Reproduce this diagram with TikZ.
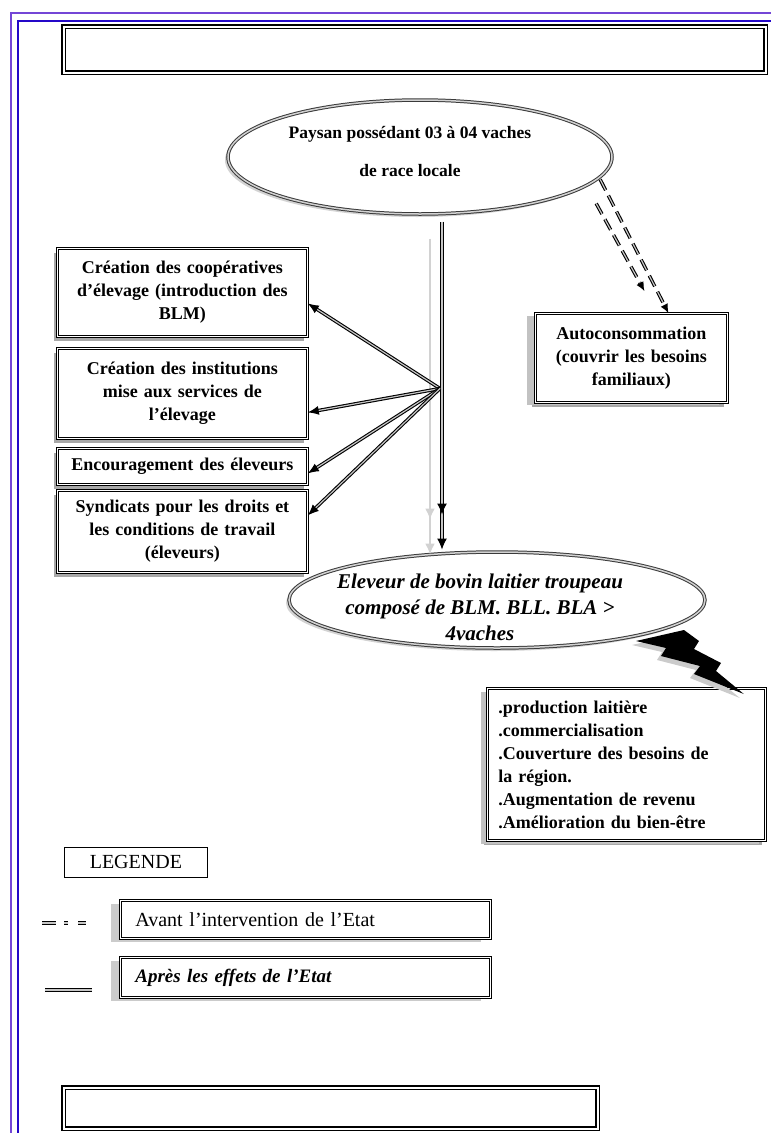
\documentclass[tikz,border=0pt]{standalone}
\usepackage{fontspec}
\setmainfont{Liberation Serif}
\usetikzlibrary{positioning, arrows.meta, shapes.geometric, shadows, calc}
\definecolor{cadreviolet}{HTML}{7446D6}
\definecolor{cadrebleu}{HTML}{2408C8}
\definecolor{corde}{HTML}{3A3A3A}
\definecolor{ombre}{HTML}{A8A8A8}

\begin{document}
\begin{tikzpicture}[x=1pt, y=-1pt,
    font=\bfseries\fontsize{18}{23}\selectfont,
    titre/.style={draw=black, double=white, line width=1.5pt, double distance=2pt,
                  anchor=north west, inner sep=0pt},
    cadre/.style={draw=black, double=white, line width=0.8pt, double distance=1.3pt, fill=white,
                  anchor=north west, align=center, inner sep=0pt},
    boite/.style={cadre, minimum width=250pt, text width=236pt,
                  drop shadow={shadow xshift=-3pt, shadow yshift=-5pt, fill=ombre, opacity=1}},
    cle/.style={cadre, minimum width=370pt, text width=340pt, align=left,
                font=\mdseries\fontsize{20}{24}\selectfont,
                drop shadow={shadow xshift=-9pt, shadow yshift=-4pt, fill=ombre!60, opacity=1}},
    bulle/.style={ellipse, draw=corde, double=gray!35, line width=1pt, double distance=1.5pt,
                  fill=white, inner sep=0pt,
                  drop shadow={shadow xshift=-3pt, shadow yshift=-3pt, fill=ombre!50, opacity=1}},
    apres/.style={draw=black, double=gray!45, line width=1.1pt, double distance=1.2pt,
                  -{Latex[length=11pt,width=9pt]}},
    avant/.style={apres, dash pattern=on 12pt off 6pt, -{Latex[length=9pt,width=8pt]}},
    reflet/.style={draw=gray!35, line width=2pt}]
  \useasboundingbox (0,0) rectangle (771,1133);

  % cadre de la page
  \draw[cadreviolet, line width=2.6pt] (11,1133) -- (11,13) -- (771,13);
  \draw[cadrebleu, line width=2.6pt] (18,1133) -- (18,21) -- (771,21);
  \node[titre, minimum width=702pt, minimum height=46pt] (titrehaut) at (63,26) {};

  % les deux situations
  \node[bulle, minimum width=384pt, minimum height=114pt] (paysan) at (420,157) {};
  \node[font=\bfseries\fontsize{17.5}{22}\selectfont, align=center] (paysantexte) at (410,152)
    {Paysan possédant 03 à 04 vaches\\[16pt] de race locale};
  \node[bulle, minimum width=416pt, minimum height=96pt] (eleveur) at (497,600) {};
  \node[font=\bfseries\itshape\fontsize{21}{26}\selectfont, align=center] (eleveurtexte) at (480,607)
    {Eleveur de bovin laitier troupeau\\ composé de BLM. BLL. BLA >\\ 4vaches};

  % actions de l'Etat
  \node[boite, minimum height=88pt] (cooperatives) at (57,248)
    {Création des coopératives\\ d'élevage (introduction des\\ BLM)};
  \node[boite, minimum height=90pt] (institutions) at (57,348)
    {Création des institutions\\ mise aux services de\\ l'élevage};
  \node[boite, minimum height=36pt] (encouragement) at (57,448) {Encouragement des éleveurs};
  \node[boite, minimum height=82pt] (syndicats) at (57,490)
    {Syndicats pour les droits et\\ les conditions de travail\\ (éleveurs)};
  \node[boite, minimum width=192pt, minimum height=89pt, text width=180pt,
        drop shadow={shadow xshift=-8pt, shadow yshift=-3pt, fill=ombre!70, opacity=1}] (autoconso) at (535,313)
    {Autoconsommation\\ (couvrir les besoins\\ familiaux)};
  \node[boite, minimum width=278pt, minimum height=152pt, text width=256pt, align=left,
        drop shadow={shadow xshift=-6pt, shadow yshift=-4pt, fill=ombre!70, opacity=1}] (apports) at (487,688)
    {.production laitière\\ .commercialisation\\ .Couverture des besoins de\\ la région.\\
     .Augmentation de revenu\\ .Amélioration du bien-être};

  % legende
  \node[draw=black, line width=0.8pt, anchor=north west, minimum width=143pt, minimum height=30pt,
        font=\mdseries\fontsize{20}{24}\selectfont] (legende) at (64,847) {LEGENDE};
  \node[cle, minimum height=38pt] (avantcle) at (120,900) {Avant l’intervention de l’Etat};
  \node[cle, minimum height=40pt, font=\bfseries\itshape\fontsize{19}{24}\selectfont] (aprescle) at (120,957)
    {Après les effets de l'Etat};
  \node[titre, minimum width=534pt, minimum height=41pt] (titrebas) at (63,1087) {};

  % fleches
  \draw[reflet, -{Latex[length=11pt,width=10pt,sep=24pt]Latex[length=11pt,width=10pt]}]
    ($(paysan.south)+(10,24)$) -- ($(eleveur.north)+(-67,3)$);
  \draw[apres, -{Latex[length=11pt,width=10pt,sep=24pt]Latex[length=11pt,width=10pt]}]
    ($(paysan.south)+(22,7)$) -- ($(eleveur.north)+(-55,-2)$);
  \coordinate (eventail) at ($(paysan.south)+(20,174)$);
  \draw[apres] (eventail) -- ([yshift=-11pt]cooperatives.east);
  \draw[apres] (eventail) -- ([yshift=-19pt]institutions.east);
  \draw[apres] (eventail) -- ([yshift=-7pt]encouragement.east);
  \draw[apres] (eventail) -- ([yshift=16pt]syndicats.east);
  \draw[avant] ([shift={(6,-2)}]paysan.-8) -- ([xshift=37pt]autoconso.north);
  \coordinate (finavant) at ($(autoconso.north)+(13,-22)$);
  \draw[avant] ([shift={(2,22)}]paysan.-8) -- (finavant);

  % eclair vers les apports
  \fill[ombre!60] (632,645) -- (662,652) -- (657,660) -- (696,670) -- (690,678)
    -- ([shift={(-26,10)}]apports.north east) -- (712,675) -- (717,667) -- (690,653) -- (695,645)
    -- (680,634) -- cycle;
  \fill[black] (636,641) -- (666,648) -- (661,656) -- (700,666) -- (694,674)
    -- ([shift={(-22,6)}]apports.north east) -- (716,671) -- (721,663) -- (694,649) -- (699,641)
    -- (684,630) -- cycle;

  % symboles de la legende
  \coordinate (symavant) at (42,923);
  \coordinate (symapres) at (45,990);
  \draw[avant, -, dash pattern=on 14pt off 8pt on 4pt off 10pt on 8pt off 20pt] (symavant) -- ++(44,0);
  \draw[apres, -] (symapres) -- ++(47,0);
\end{tikzpicture}
\end{document}
